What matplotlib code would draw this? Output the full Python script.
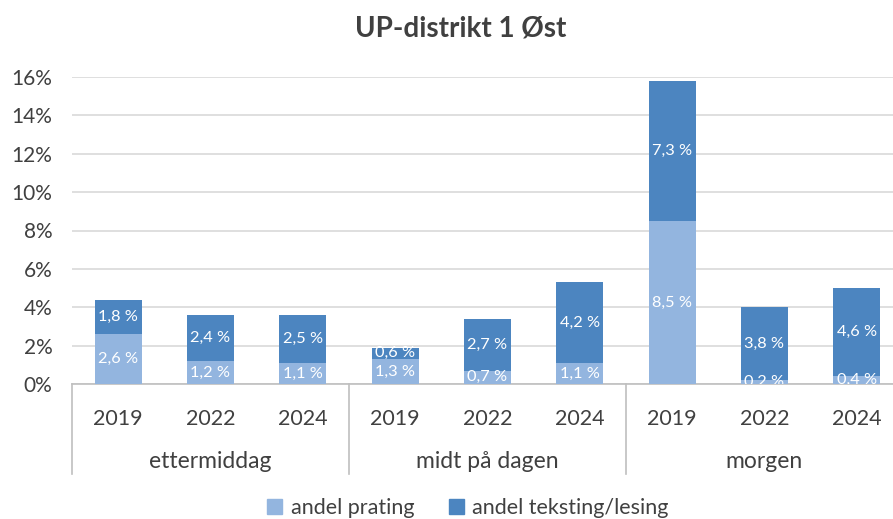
import matplotlib
matplotlib.use("Agg")
import matplotlib.pyplot as plt
from matplotlib.patches import Patch
import matplotlib.transforms as mtransforms

plt.rcParams['font.family'] = ['Lato', 'DejaVu Sans']

groups = ["ettermiddag", "midt på dagen", "morgen"]
years = ["2019", "2022", "2024"]
prating = [2.6, 1.2, 1.1, 1.3, 0.7, 1.1, 8.5, 0.2, 0.4]
teksting = [1.8, 2.4, 2.5, 0.6, 2.7, 4.2, 7.3, 3.8, 4.6]
yticks = [0, 2, 4, 6, 8, 10, 12, 14, 16]
title = "UP-distrikt 1 Øst"
series_names = ["andel prating", "andel teksting/lesing"]

c_light = "#93B5DF"
c_dark = "#4C85C0"
text_col = "#404040"
grid_col = "#D9D9D9"

W, H = 893, 519
fig = plt.figure(figsize=(W / 100, H / 100), dpi=100)
ax_left, ax_right, ax_top, ax_bot = 72, 903, 77, 384
ax = fig.add_axes([ax_left / W, 1 - ax_bot / H, (ax_right - ax_left) / W, (ax_bot - ax_top) / H])

n = len(prating)
x = list(range(n))
bw = 0.51
ax.bar(x, prating, bw, color=c_light, zorder=3)
ax.bar(x, teksting, bw, bottom=prating, color=c_dark, zorder=3)

def fmt(v):
    return f"{v:.1f} %".replace(".", ",")

for i in x:
    ax.text(i, prating[i] / 2, fmt(prating[i]), ha="center", va="center",
            color="white", fontsize=11.8, zorder=4, clip_on=True)
    ax.text(i, prating[i] + teksting[i] / 2, fmt(teksting[i]), ha="center", va="center",
            color="white", fontsize=11.8, zorder=4, clip_on=True)

ax.set_xlim(-0.5, n - 0.5)
ax.set_ylim(0, 16)
ax.set_yticks(yticks)
ax.set_yticklabels([f"{t}%" for t in yticks], color=text_col, fontsize=15)
ax.yaxis.grid(True, color=grid_col, linewidth=1.2, zorder=0)
ax.set_axisbelow(True)
for s in ["top", "right", "left"]:
    ax.spines[s].set_visible(False)
ax.spines["bottom"].set_color("#BFBFBF")
ax.spines["bottom"].set_linewidth(1.2)
ax.tick_params(axis="y", length=0, pad=14)
ax.set_xticks(x)
ax.set_xticklabels(years * len(groups), color=text_col, fontsize=15.5)
ax.tick_params(axis="x", length=0, pad=18)

trans = mtransforms.blended_transform_factory(ax.transData, ax.transAxes)
axh = ax_bot - ax_top
line_bottom = -(474 - ax_bot) / axh
for b in [-0.5, 2.5, 5.5, 8.5]:
    ax.plot([b, b], [0, line_bottom], transform=trans, color="#BFBFBF", lw=1.2, clip_on=False)
for gi, g in enumerate(groups):
    ax.text(gi * 3 + 1, -(461 - ax_bot) / axh, g, transform=trans, ha="center", va="center",
            color=text_col, fontsize=16.5)

fig.text(461 / W, 1 - 28 / H, title, ha="center", va="center", fontsize=20,
         fontweight="bold", color=text_col)

handles = [Patch(color=c_light), Patch(color=c_dark)]
fig.legend(handles, series_names, loc="center", bbox_to_anchor=(468 / W, 1 - 508 / H),
           ncol=2, frameon=False, fontsize=15.5, handlelength=0.7, handleheight=0.7,
           handletextpad=0.4, columnspacing=1.6, labelcolor=text_col)

fig.savefig("out.png", dpi=100)
